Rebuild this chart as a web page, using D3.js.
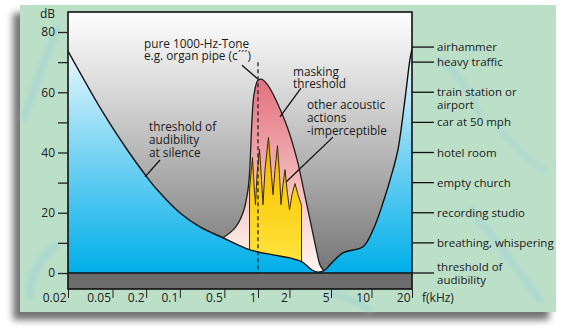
<!DOCTYPE html>
<html><head><meta charset="utf-8">
<script src="https://cdn.jsdelivr.net/npm/d3@7"></script>
<style>html,body{margin:0;padding:0;background:#fff;} svg{display:block;font-family:"Open Sans",sans-serif;}</style>
</head><body>
<svg id="c" width="562" height="329"></svg>
<script>
// ---- data ----
const xTickValues = [0.02, 0.05, 0.1, 0.2, 0.5, 1, 2, 5, 10, 20];
const xTickLabels = ["0.02", "0.05", "0.2", "0.1", "0.5", "1", "2", "5", "10", "20"];
const yTickValues = [0, 10, 20, 30, 40, 50, 60, 70, 80];
const yTickLabels = ["0", "", "20", "", "40", "", "60", "", "80"];

// threshold of audibility at silence (kHz, dB)
const thresholdFreq = [0.02, 0.0411, 0.0674, 0.0976, 0.125, 0.2, 0.303, 0.486, 0.848, 1.392, 2.025, 2.638, 3.289, 3.754, 4.38, 4.89, 6.14, 8.65, 10.26, 12.18, 14.45, 15.74, 17.74, 19.33, 20];
const thresholdDb   = [73.7, 53.3, 41, 32.7, 27.7, 20, 15.3, 11.7, 7.7, 6, 5, 3.7, 1, 0.3, 1, 2.7, 6.7, 8.7, 14.3, 23.3, 34.3, 41, 57.7, 71, 74.3];

// masking threshold of the 1000 Hz tone
const maskFreq = [0.486, 0.623, 0.734, 0.814, 0.848, 0.884, 0.921, 1.0, 1.092, 1.247, 1.52, 1.895, 2.363, 2.697, 3.147, 3.672, 3.924, 4.285];
const maskDb   = [11.7, 15, 20, 27.7, 36, 51, 59.3, 64, 64.3, 62.3, 56.7, 48.7, 37.7, 28.7, 17.7, 6.7, 2.7, 0.7];

// other acoustic actions (imperceptible)
const spikeFreq = [0.84, 0.893, 0.921, 0.95, 0.98, 1.034, 1.08, 1.117, 1.167, 1.26, 1.332, 1.392, 1.455, 1.537, 1.606, 1.66, 1.735, 1.814, 1.895, 2.003, 2.116, 2.26, 2.415, 2.61];
const spikeDb   = [28, 38.3, 29.3, 22.7, 32.7, 41, 31, 22.7, 34.3, 45, 34.3, 26, 34.3, 42.3, 32.7, 22.7, 29.3, 34.3, 27.7, 21, 26, 29.7, 26, 22.5];

// everyday sound sources on the right
const sourceLabels = [["airhammer"], ["heavy traffic"], ["train station or", "airport"], ["car at 50 mph"], ["hotel room"], ["empty church"], ["recording studio"], ["breathing, whispering"], ["threshold of", "audibility"]];
const sourceLevels = [75, 70, 60, 50, 40, 30, 20, 10, 0];

// ---- scales ----
const svg = d3.select("#c");
const x = d3.scaleLog().domain([0.02, 1, 5, 20]).range([68, 258, 331, 412]);
const y = d3.scaleLinear().domain([0, 80]).range([273, 32]);
const L = x(0.02), R = x(20), T = 12, B = 289;

const thr = thresholdFreq.map((f, i) => [f, thresholdDb[i]]);
const mask = maskFreq.map((f, i) => [f, maskDb[i]]);
const spikes = spikeFreq.map((f, i) => [f, spikeDb[i]]);

// ---- defs ----
const defs = svg.append("defs");
const sh = defs.append("filter").attr("id", "shadow").attr("x", "-10%").attr("y", "-10%").attr("width", "120%").attr("height", "125%");
sh.append("feDropShadow").attr("dx", -7).attr("dy", 8).attr("stdDeviation", 3.5).attr("flood-color", "#000").attr("flood-opacity", 0.55);
defs.append("filter").attr("id", "blur").append("feGaussianBlur").attr("stdDeviation", 2.5);

function grad(id, y1, y2, stops) {
  const g = defs.append("linearGradient").attr("id", id).attr("gradientUnits", "userSpaceOnUse")
    .attr("x1", 0).attr("x2", 0).attr("y1", y1).attr("y2", y2);
  stops.forEach(s => g.append("stop").attr("offset", s[0]).attr("stop-color", s[1]));
}
grad("gGrey", T, y(0), [[0, "#ffffff"], [0.35, "#d2d2d2"], [1, "#757575"]]);
grad("gBlue", y(75), y(0), [[0, "#eef9fd"], [0.45, "#7ed5f4"], [1, "#00afe9"]]);
grad("gPink", y(64), y(0), [[0, "#e3717f"], [0.45, "#f1aeb1"], [0.8, "#fbe2dd"], [1, "#fff6f2"]]);
grad("gYellow", y(45), y(5), [[0, "#eeae00"], [0.5, "#fbcf14"], [1, "#ffe23c"]]);
defs.append("clipPath").attr("id", "plotClip").append("rect").attr("x", L).attr("y", T).attr("width", R - L).attr("height", y(0) - T);

// ---- panel ----
svg.append("rect").attr("x", 20).attr("y", 5).attr("width", 536).attr("height", 307).attr("fill", "#bcdfc8").attr("filter", "url(#shadow)");
const tex = svg.append("g").attr("filter", "url(#blur)").attr("fill", "none").attr("stroke", "#a3d4d4").attr("stroke-linecap", "round").attr("opacity", 0.75);
tex.append("path").attr("d", "M24,118 C34,90 44,60 58,28").attr("stroke-width", 6);
tex.append("path").attr("d", "M30,296 C30,275 40,258 56,246").attr("stroke-width", 7);
tex.append("path").attr("d", "M440,60 C455,70 470,90 480,115").attr("stroke-width", 5);
tex.append("path").attr("d", "M470,210 C490,230 510,260 540,300").attr("stroke-width", 6);
tex.append("path").attr("d", "M500,130 C515,145 525,160 545,170").attr("stroke-width", 4);
tex.append("path").attr("d", "M330,292 C345,300 360,300 370,310").attr("stroke-width", 5);

// ---- plot ----
const plot = svg.append("g").attr("clip-path", "url(#plotClip)");
plot.append("rect").attr("x", L).attr("y", T).attr("width", R - L).attr("height", y(0) - T).attr("fill", "url(#gGrey)");

const smooth = d3.curveCatmullRom.alpha(0.5);
plot.append("path").datum(mask).attr("d", d3.area().x(d => x(d[0])).y0(y(0)).y1(d => y(d[1])).curve(smooth)).attr("fill", "url(#gPink)");
plot.append("path").datum(spikes).attr("d", d3.area().x(d => x(d[0])).y0(y(0)).y1(d => y(d[1]))).attr("fill", "url(#gYellow)")
  .attr("stroke", "#3a2c00").attr("stroke-width", 1).attr("stroke-linejoin", "miter");
plot.append("path").datum(thr).attr("d", d3.area().x(d => x(d[0])).y0(y(0)).y1(d => y(d[1])).curve(smooth)).attr("fill", "url(#gBlue)");

const line = d3.line().x(d => x(d[0])).y(d => y(d[1])).curve(smooth);
plot.append("path").datum(mask).attr("d", line).attr("fill", "none").attr("stroke", "#1e1e1e").attr("stroke-width", 1.3);
plot.append("path").datum(thr).attr("d", line).attr("fill", "none").attr("stroke", "#111").attr("stroke-width", 1.4);

// 1 kHz dashed line
svg.append("line").attr("x1", x(1)).attr("x2", x(1)).attr("y1", y(70)).attr("y2", y(0))
  .attr("stroke", "#222").attr("stroke-width", 1.3).attr("stroke-dasharray", "4,3");

// grey bar below 0 dB
svg.append("rect").attr("x", L).attr("y", y(0)).attr("width", R - L).attr("height", B - y(0)).attr("fill", "#6c6c6c");
svg.append("line").attr("x1", L).attr("x2", R).attr("y1", y(0)).attr("y2", y(0)).attr("stroke", "#111").attr("stroke-width", 1.5);
// frame
svg.append("rect").attr("x", L).attr("y", T).attr("width", R - L).attr("height", B - T).attr("fill", "none").attr("stroke", "#111").attr("stroke-width", 1.6);

// ---- axes ----
const yAxis = svg.append("g").attr("transform", `translate(${L},0)`)
  .call(d3.axisLeft(y).tickValues(yTickValues).tickSize(10).tickPadding(3).tickFormat((d, i) => yTickLabels[i]));
yAxis.select(".domain").remove();
yAxis.selectAll("line").attr("stroke", "#222").attr("stroke-width", 1.3);
yAxis.selectAll("text").attr("font-size", 12).attr("fill", "#222").attr("font-family", "Open Sans");
svg.append("text").attr("x", 55).attr("y", 18).attr("text-anchor", "end").attr("font-size", 12).attr("fill", "#222").text("dB");

const xAxis = svg.append("g").attr("transform", `translate(0,${B})`)
  .call(d3.axisBottom(x).tickValues(xTickValues).tickSize(9).tickFormat((d, i) => xTickLabels[i]));
xAxis.select(".domain").remove();
xAxis.selectAll("line").attr("stroke", "#222").attr("stroke-width", 1);
xAxis.selectAll("text").attr("font-size", 12).attr("fill", "#222").attr("font-family", "Open Sans")
  .attr("text-anchor", "end").attr("x", -2).attr("y", 13).attr("dy", 0);
svg.append("text").attr("x", 422).attr("y", B + 13).attr("font-size", 12).attr("fill", "#222").text("f(kHz)");

// ---- right side source labels ----
const src = svg.append("g");
sourceLabels.forEach((lines, i) => {
  const yy = y(sourceLevels[i]);
  src.append("line").attr("x1", R).attr("x2", R + 22).attr("y1", yy).attr("y2", yy).attr("stroke", "#111").attr("stroke-width", 1.3);
  const shift = sourceLevels[i] === 0 ? -6 : 0;
  const t = src.append("text").attr("font-size", 11.5).attr("fill", "#1a1a1a");
  lines.forEach((s, j) => t.append("tspan").attr("x", R + 25).attr("y", yy + shift + j * 12.5 + 4).text(s));
});

// ---- annotations ----
const ann = svg.append("g").attr("font-size", 11.8).attr("fill", "#1a1a1a");
function multi(f, db, lines, lh) {
  const t = ann.append("text");
  lines.forEach((s, j) => t.append("tspan").attr("x", x(f)).attr("y", y(db) + j * lh).text(s));
}
function leader(f1, d1, f2, d2) {
  svg.append("line").attr("x1", x(f1)).attr("y1", y(d1)).attr("x2", x(f2)).attr("y2", y(d2)).attr("stroke", "#111").attr("stroke-width", 1.3);
}
multi(0.0956, 74.7, ["pure 1000-Hz-Tone", "e.g. organ pipe (c\u00b4\u00b4\u00b4)"], 12.5);
leader(0.719, 69, 0.985, 64.6);
multi(2.163, 65.5, ["masking", "threshold"], 12.5);
leader(2.58, 61.4, 1.624, 51.8);
multi(2.947, 54.3, ["other acoustic", "actions", "-imperceptible"], 13);
leader(5.17, 45.1, 1.855, 30.2);
multi(0.106, 47, ["threshold of", "audibility", "at silence"], 12.8);
leader(0.133, 37.5, 0.0976, 31.9);
</script>
</body></html>
